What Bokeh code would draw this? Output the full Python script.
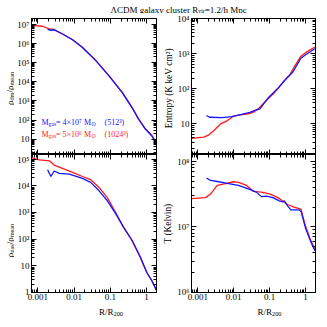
import math
from bokeh.plotting import figure
from bokeh.models import Label, LogAxis, FixedTicker, CustomJSTickFormatter, Range1d
from bokeh.layouts import column, row
from bokeh.embed import file_html
from bokeh.resources import INLINE

# ---------------- data ----------------
# dark-matter density profile
r_dm_red = [6.6e-4, 1.35e-3, 2.09e-3, 2.82e-3, 4.8e-3, 9.1e-3, 0.017, 0.040, 0.091, 0.214, 0.40, 0.60, 0.93, 1.41, 1.86]
rho_dm_red = [8.9e6, 8.1e6, 5.9e6, 5.5e6, 3.2e6, 1.6e6, 6.5e5, 1.3e5, 2.1e4, 2.9e3, 470, 115, 35, 15.5, 6.9]
r_dm_blue = [1.86e-3, 2.29e-3, 2.82e-3, 4.8e-3, 9.1e-3, 0.017, 0.040, 0.091, 0.214, 0.40, 0.60, 0.93, 1.41, 1.86]
rho_dm_blue = [5.5e6, 5.0e6, 5.2e6, 3.2e6, 1.6e6, 6.3e5, 1.29e5, 2.1e4, 2.75e3, 440, 115, 34, 14.8, 6.3]

# entropy profile
r_s_red = [6.5e-4, 1.48e-3, 2.04e-3, 2.82e-3, 4.3e-3, 6.5e-3, 9.8e-3, 0.0151, 0.0257, 0.0347, 0.048, 0.072, 0.138, 0.186, 0.257, 0.355, 0.479, 0.741, 1.0, 1.82]
s_red = [3.9, 4.2, 4.9, 6.5, 10, 12.3, 16.6, 18.2, 19.5, 21.4, 26.9, 41.7, 79, 112, 174, 240, 417, 851, 1070, 1550]
r_s_blue = [1.74e-3, 2.14e-3, 4.7e-3, 8.9e-3, 0.0166, 0.0282, 0.0389, 0.0537, 0.089, 0.170, 0.316, 0.437, 0.741, 1.0, 1.82]
s_blue = [17.4, 15.5, 15.1, 16.2, 18.6, 21.4, 24.5, 26.9, 53.7, 105, 214, 295, 741, 933, 1380]

# gas density profile
r_gas_red = [6.6e-4, 1.1e-3, 2.09e-3, 2.82e-3, 4.8e-3, 9.1e-3, 0.017, 0.0288, 0.049, 0.083, 0.141, 0.234, 0.40, 0.676, 1.02, 1.41, 1.86]
rho_gas_red = [1.15e5, 9.5e4, 8.7e4, 6.0e4, 4.5e4, 3.2e4, 2.24e4, 1.7e4, 8.7e3, 3.6e3, 1.0e3, 275, 87, 20.4, 5.6, 2.75, 1.26]
r_gas_blue = [1.86e-3, 2.29e-3, 2.82e-3, 3.9e-3, 7.4e-3, 0.017, 0.0288, 0.049, 0.083, 0.141, 0.234, 0.40, 0.676, 1.02, 1.41, 1.86]
rho_gas_blue = [4.0e4, 2.24e4, 3.6e4, 2.95e4, 2.75e4, 1.9e4, 1.35e4, 6.5e3, 2.75e3, 912, 275, 91, 21.4, 5.6, 2.75, 1.2]

# temperature profile
r_t_red = [6.5e-4, 1.66e-3, 2.29e-3, 3.47e-3, 5.9e-3, 9.8e-3, 0.0135, 0.0229, 0.0347, 0.0589, 0.1, 0.17, 0.316, 0.479, 0.741, 1.0, 1.38, 1.82]
t_red = [2.7e7, 2.8e7, 3.2e7, 4.3e7, 4.6e7, 4.9e7, 4.8e7, 4.3e7, 3.5e7, 3.4e7, 3.2e7, 2.8e7, 2.2e7, 2.0e7, 1.86e7, 1.02e7, 6.3e6, 4.5e6]
r_t_blue = [1.74e-3, 2.14e-3, 3.8e-3, 7.2e-3, 0.0135, 0.0257, 0.0427, 0.0589, 0.0813, 0.123, 0.186, 0.229, 0.257, 0.316, 0.389, 0.661, 0.759, 1.0, 1.38, 1.82]
t_blue = [5.6e7, 5.2e7, 4.9e7, 4.6e7, 4.3e7, 3.8e7, 3.4e7, 2.9e7, 2.95e7, 2.8e7, 2.5e7, 2.4e7, 2.5e7, 2.1e7, 1.82e7, 1.82e7, 1.7e7, 9.5e6, 6.0e6, 4.3e6]

# axis extents and ticks
x_range_lim = [6.68e-4, 1.89]
y_dm_lim = [1.585, 2.06e7]
y_s_lim = [1.35, 1.005e4]
y_gas_lim = [0.995, 1.5e5]
y_t_lim = [0.99e6, 1.28e8]
decade_exps = list(range(-4, 10))
major_ticks = [10.0 ** k for k in decade_exps]
minor_ticks = [m * 10.0 ** k for k in decade_exps for m in range(2, 10)]

legend_blue = ["M", "gas", "= 4×10⁷ M", "⊙", "(512³)"]
legend_red = ["M", "gas", "= 5×10⁶ M", "⊙", "(1024³)"]

RED = "#ff1a1a"
BLUE = "#1414ff"
FONT = "Liberation Serif"

# approximate advance widths (1/1000 em) for placing composed text pieces
W = {' ': 250, '.': 250, '/': 278, '=': 564, '(': 333, ')': 333, '×': 564, 'Λ': 722,
     'C': 667, 'D': 722, 'M': 889, 'R': 667, 'K': 722, 'E': 611, 'T': 611, 'V': 722,
     'a': 444, 'c': 444, 'e': 444, 'i': 278, 'l': 278, 'm': 778, 'r': 333, 's': 389,
     't': 278, 'ρ': 500, '⊙': 800, '²': 300, '³': 300, '⁶': 300, '⁷': 300}


def tw(s, size):
    return sum(W.get(c, 500) for c in s) * size / 1000.0


def put(fig, FL, FB, x, y, text, size, color="black", angle=0.0):
    fig.add_layout(Label(x=x - FL, y=FB - y, x_units="screen", y_units="screen",
                         text=text, text_font=FONT, text_font_size=f"{size}px",
                         text_color=color, text_baseline="alphabetic",
                         text_align="left", angle=angle))


def compose(fig, FL, FB, pieces, x, y, color="black", rotated=False):
    for text, size, shift in pieces:
        if rotated:
            put(fig, FL, FB, x + shift, y, text, size, color, math.pi / 2)
            y -= tw(text, size)
        else:
            put(fig, FL, FB, x, y + shift, text, size, color)
            x += tw(text, size)


def total(pieces):
    return sum(tw(t, s) for t, s, _ in pieces)


ylab_code = """
const e = Math.round(Math.log10(tick));
const sup = {"0":"⁰","1":"¹","2":"²","3":"³","4":"⁴","5":"⁵","6":"⁶","7":"⁷","8":"⁸","9":"⁹","-":"⁻"};
if (e == 0) return "1";
if (e == 1) return "10";
return "10" + String(e).split("").map(c => sup[c]).join("");
"""
xlab_code = """
const e = Math.round(Math.log10(tick));
return e >= 0 ? String(Math.round(tick)) : tick.toFixed(-e);
"""


def style_axis(ax, labels=None):
    ax.ticker = FixedTicker(ticks=major_ticks, minor_ticks=minor_ticks)
    ax.major_tick_in = 5
    ax.major_tick_out = 0
    ax.minor_tick_in = 3
    ax.minor_tick_out = 0
    ax.axis_line_color = "black"
    ax.major_tick_line_color = "black"
    ax.minor_tick_line_color = "black"
    ax.axis_label = None
    if labels is None:
        ax.formatter = CustomJSTickFormatter(code="return '';")
        ax.major_label_text_font_size = "0px"
        ax.major_label_standoff = 0
    else:
        ax.formatter = CustomJSTickFormatter(code=labels)
        ax.major_label_text_font = FONT
        ax.major_label_text_font_size = "9px"
        ax.major_label_text_color = "black"


def make_panel(width, height, ylim, borders, xlabels):
    p = figure(width=width, height=height, x_axis_type="log", y_axis_type="log",
               x_range=Range1d(*x_range_lim), y_range=Range1d(*ylim),
               toolbar_location=None, output_backend="svg", title=None,
               min_border_left=borders[0], min_border_right=borders[1],
               min_border_top=borders[2], min_border_bottom=borders[3])
    p.xgrid.grid_line_color = None
    p.ygrid.grid_line_color = None
    p.outline_line_color = "black"
    p.background_fill_color = "white"
    p.border_fill_color = "white"
    style_axis(p.xaxis[0], xlab_code if xlabels else None)
    p.xaxis[0].major_label_standoff = 1 if xlabels else 0
    style_axis(p.yaxis[0], ylab_code)
    p.yaxis[0].major_label_standoff = 2
    top = LogAxis()
    style_axis(top)
    p.add_layout(top, "above")
    right = LogAxis()
    style_axis(right)
    p.add_layout(right, "right")
    return p


def strip(width, height):
    f = figure(width=width, height=height, x_axis_type=None, y_axis_type=None,
               x_range=Range1d(0, 1), y_range=Range1d(0, 1), title=None,
               toolbar_location=None, output_backend="svg", min_border=0)
    f.outline_line_color = None
    f.xgrid.grid_line_color = None
    f.ygrid.grid_line_color = None
    return f


# panels: frames at x 30-156 / 189-315, y 18-154 / 154-292 (page pixels)
tl = make_panel(145, 141, y_dm_lim, (16, 3, 5, 0), False)
tr = make_panel(146, 141, y_s_lim, (15, 5, 5, 0), False)
bl = make_panel(145, 150, y_gas_lim, (16, 3, 0, 12), True)
br = make_panel(146, 150, y_t_lim, (15, 5, 0, 12), True)

LW = 1.3
tl.line(r_dm_red, rho_dm_red, line_color=RED, line_width=LW)
tl.line(r_dm_blue, rho_dm_blue, line_color=BLUE, line_width=LW)
tr.line(r_s_red, s_red, line_color=RED, line_width=LW)
tr.line(r_s_blue, s_blue, line_color=BLUE, line_width=LW)
bl.line(r_gas_red, rho_gas_red, line_color=RED, line_width=LW)
bl.line(r_gas_blue, rho_gas_blue, line_color=BLUE, line_width=LW)
br.line(r_t_red, t_red, line_color=RED, line_width=LW)
br.line(r_t_blue, t_blue, line_color=BLUE, line_width=LW)

# text strips
title_fig = strip(320, 13)
yt_left = strip(14, 305)
yt_right = strip(15, 305)
xt_left = strip(145, 14)
xt_right = strip(146, 14)

# legend
for pieces_txt, color, yb in ((legend_blue, BLUE, 121.5), (legend_red, RED, 133.5)):
    pcs = [(pieces_txt[0], 8, 0), (pieces_txt[1], 5.6, 1.8), (pieces_txt[2], 8, 0), (pieces_txt[3], 5.6, 1.8)]
    compose(tl, 30, 154, pcs, 40, yb, color)
    put(tl, 30, 154, 103, yb, pieces_txt[4], 8, color)

# y-axis titles (rotated)
p_dm = [("ρ", 9, 0), ("dm", 6.3, 1.8), ("/ρ", 9, 0), ("mean", 6.3, 1.8)]
compose(yt_left, 0, 318, p_dm, 9.5, 88 + total(p_dm) / 2, rotated=True)
p_gas = [("ρ", 9, 0), ("gas", 6.3, 1.8), ("/ρ", 9, 0), ("mean", 6.3, 1.8)]
compose(yt_left, 0, 318, p_gas, 9.5, 240 + total(p_gas) / 2, rotated=True)
p_s = [("Entropy (K  keV cm²)", 9.4, 0)]
compose(yt_right, 159, 318, p_s, 168.5, 86.5 + total(p_s) / 2, rotated=True)
p_t = [("T (Kelvin)", 9.4, 0)]
compose(yt_right, 159, 318, p_t, 167.5, 223 + total(p_t) / 2, rotated=True)

# x-axis titles
p_r = [("R/R", 9, 0), ("200", 6.3, 2)]
compose(xt_left, 14, 318, p_r, 93.5 - total(p_r) / 2, 311.5)
compose(xt_right, 174, 318, p_r, 252 - total(p_r) / 2, 311.5)

# title
p_title = [("ΛCDM galaxy cluster R", 9, 0), ("vir", 5.8, 1.3), ("=1.2/h Mpc", 9, 0)]
compose(title_fig, 0, 13, p_title, 110, 9)

body = row(yt_left, column(tl, bl, xt_left), yt_right, column(tr, br, xt_right))
layout = column(title_fig, body)

open("out.html", "w").write(file_html(layout, INLINE))
